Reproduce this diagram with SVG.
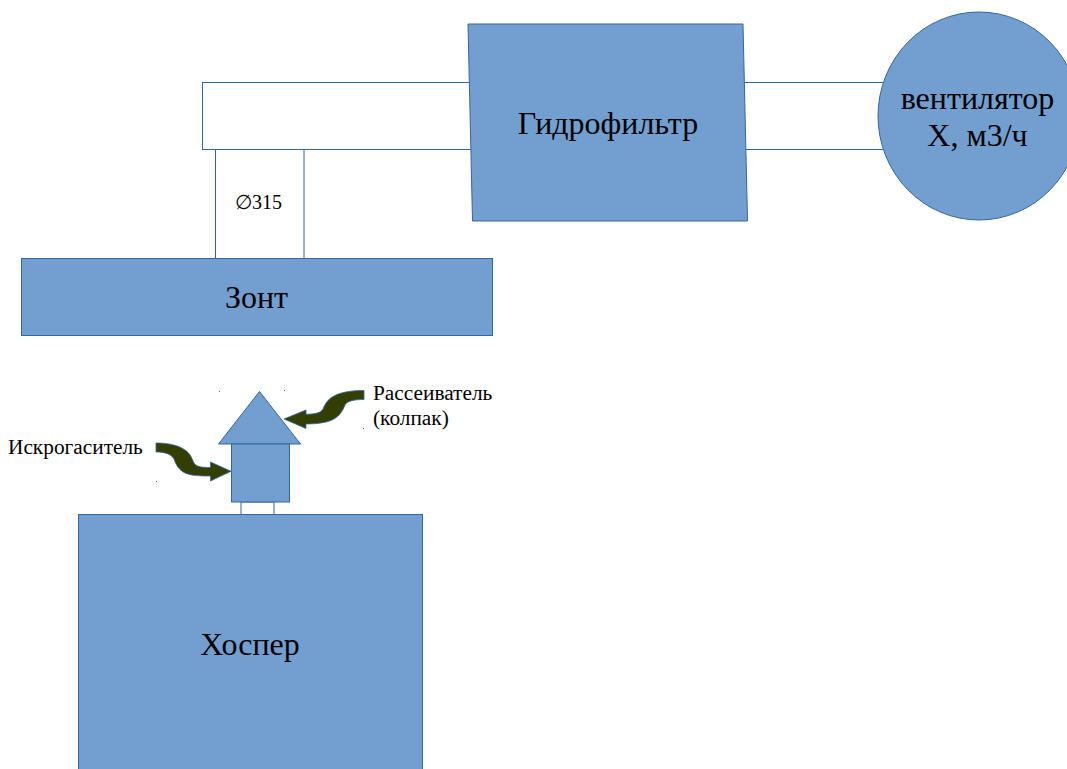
<svg xmlns="http://www.w3.org/2000/svg" width="1067" height="769" viewBox="0 0 1067 769">
<style>
.n{fill:#729fcf;stroke:#3465a4;stroke-width:1}
.d{fill:#fff;stroke:#3465a4;stroke-width:1}
.a{fill:#333f00;stroke:#3465a4;stroke-width:.8}
.dot{fill:#3465a4}
text{font-family:"Liberation Serif",serif;fill:#000;text-anchor:middle}
.l{font-size:32px}
.s{font-size:20px}
.t{font-size:21.33px;text-anchor:start}
</style>
<rect width="1067" height="769" fill="#fff"/>
<g id="connectors">
<rect class="d" x="202.500" y="82.500" width="270" height="67"/>
<path class="d" d="M744 82.500H890M744 149.500H890"/>
<rect class="d" x="215.500" y="149.500" width="88.500" height="109"/>
<rect class="d" x="241" y="502" width="33" height="12.500"/>
</g>
<g id="gidrofilter"><path class="n" d="M468 24H743L747.500 221H472.500Z"/><text class="l" x="608" y="134">Гидрофильтр</text></g>
<g id="fan"><ellipse class="n" cx="979" cy="116" rx="101" ry="104"/><text class="l" x="977.500" y="109">вентилятор</text><text class="l" x="977.500" y="146">X, м3/ч</text></g>
<g id="diameter"><text class="s" x="258.500" y="209">∅315</text></g>
<g id="zont"><rect class="n" x="21.500" y="258.500" width="471" height="77"/><text class="l" x="256.500" y="308">Зонт</text></g>
<g id="hosper"><rect class="n" x="78.500" y="514.500" width="344" height="256"/><text class="l" x="250" y="655">Хоспер</text></g>
<g id="cap"><path class="n" d="M259.500 391.500L300.500 444H218.500Z"/></g>
<g id="arrester"><rect class="n" x="231.500" y="444" width="58" height="58"/></g>
<g id="arrow-cap"><path class="a" d="M364 390.500C352 390.500 341 392 334 396C328 399 325 404 323 409C321 413 315 414 306 414.300V410L284 419L306 428.500V424C316 424 326 423 333 419.500C340 416 343 410 345 405C347 401 354 399.500 364 399.500Z"/></g>
<g id="arrow-arrester"><path class="a" d="M156 443C168 443 178 445 185 450C191 454 192 459 194 463C196 467 203 467.500 210.500 467.500V462L231 471.300L210.500 481V476C201 476 192 476 185 473C179 470 176 465 174 459C171 454 165 452 156 452Z"/></g>
<g id="label-cap"><text class="t" x="373" y="400">Рассеиватель</text><text class="t" x="373" y="425">(колпак)</text></g>
<g id="label-arrester"><text class="t" x="8" y="454">Искрогаситель</text></g>
<rect class="dot" x="219" y="391" width="1" height="1"/><rect class="dot" x="284" y="390" width="1" height="1"/><rect class="dot" x="363" y="428" width="1" height="1"/><rect class="dot" x="156" y="481" width="1" height="1"/>
</svg>
